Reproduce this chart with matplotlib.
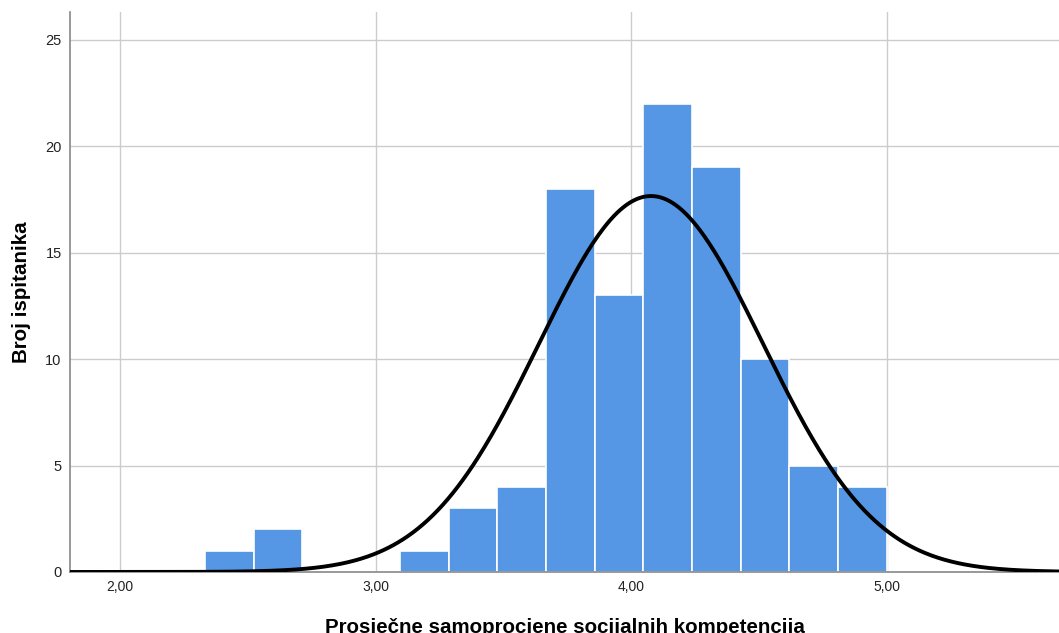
import matplotlib
matplotlib.use('Agg')
import matplotlib.pyplot as plt
import numpy as np

plt.rcParams['font.family'] = ['Liberation Sans', 'DejaVu Sans']

# histogram data
bin_start = 2.333
bin_width = 0.1905
counts = [1, 2, 0, 0, 1, 3, 4, 18, 13, 22, 19, 10, 5, 4]
# fitted normal curve
mean_val = 4.078
sd_val = 0.439
n_total = sum(counts)

xticks = [2.0, 3.0, 4.0, 5.0]
xtick_labels = ['2,00', '3,00', '4,00', '5,00']
yticks = [0, 5, 10, 15, 20, 25]

fig = plt.figure(figsize=(10.59, 6.33), dpi=100)
ax = fig.add_axes([0.0661, 0.0964, 0.9339, 0.8846])

edges = bin_start + bin_width * np.arange(len(counts) + 1)
ax.bar(edges[:-1], counts, width=bin_width, align='edge',
       color='#5596e5', edgecolor='white', linewidth=1.2, zorder=2)

xs = np.linspace(1.80, 5.68, 600)
ys = n_total * bin_width / (sd_val * np.sqrt(2 * np.pi)) * np.exp(-(xs - mean_val) ** 2 / (2 * sd_val ** 2))
ax.plot(xs, ys, color='black', linewidth=2.8, zorder=3)

ax.set_xlim(1.804, 5.675)
ax.set_ylim(0, 26.3)
ax.set_xticks(xticks)
ax.set_xticklabels(xtick_labels, fontsize=10)
ax.set_yticks(yticks)
ax.tick_params(axis='y', labelsize=10.5)
ax.tick_params(length=0, pad=6, colors='#222222')
ax.grid(True, color='#cccccc', linewidth=1, zorder=0)
ax.set_axisbelow(True)
for s in ['top', 'right']:
    ax.spines[s].set_visible(False)
for s in ['left', 'bottom']:
    ax.spines[s].set_color('#888888')
    ax.spines[s].set_linewidth(1.2)

ax.set_xlabel('Prosječne samoprocjene socijalnih kompetencija', fontsize=14.8,
              fontweight='bold', labelpad=17)
ax.set_ylabel('Broj ispitanika', fontsize=14.8, fontweight='bold', labelpad=10)

fig.savefig('out.png', dpi=100)
